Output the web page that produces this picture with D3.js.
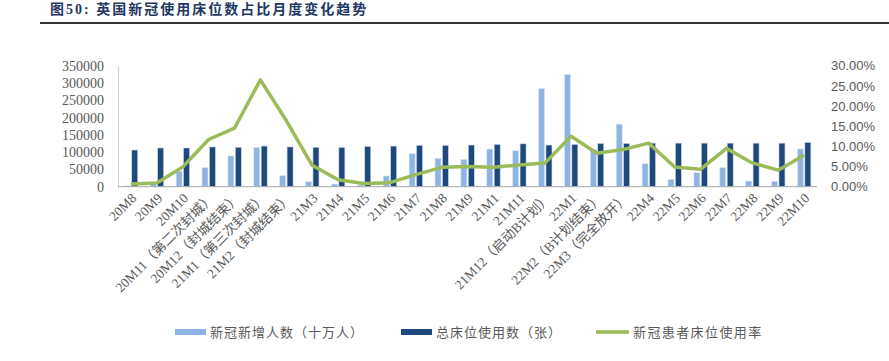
<!DOCTYPE html>
<html><head><meta charset="utf-8">
<script src="https://cdn.jsdelivr.net/npm/d3@7/dist/d3.min.js"></script>
<style>body{margin:0;background:#fff}svg{display:block}</style>
</head><body>
<svg id="c" width="889" height="361"></svg>
<script>
const categories = ["20M8","20M9","20M10","20M11（第二次封城）","20M12（封城结束）","21M1（第三次封城）","21M2（封城结束）","21M3","21M4","21M5","21M6","21M7","21M8","21M9","21M1","21M11","21M12（启动B计划）","22M1","22M2（B计划结束）","22M3（完全放开）","22M4","22M5","22M6","22M7","22M8","22M9","22M10"];
const newCases = [3000,9000,45000,55000,89000,113000,32000,14500,7700,5000,31000,96000,82000,79000,109000,104000,284000,325000,108000,181000,66500,21000,40500,55000,16400,15400,109000];
const bedsUsed = [106000,112000,112000,115000,114000,117500,115000,114000,114000,116500,117500,119500,119500,120500,122400,124000,120500,122400,125000,125000,126000,126000,126000,126000,126000,126000,128000];
const bedRate = [0.0066,0.009,0.049,0.117,0.145,0.265,0.164,0.053,0.017,0.008,0.010,0.030,0.048,0.050,0.0485,0.054,0.059,0.125,0.083,0.092,0.108,0.049,0.043,0.095,0.059,0.041,0.078];
const leftTicks = [0,50000,100000,150000,200000,250000,300000,350000];
const rightTicks = [0,0.05,0.10,0.15,0.20,0.25,0.30];
const seriesNames = ["新冠新增人数（十万人）","总床位使用数（张）","新冠患者床位使用率"];
const title = "图50: 英国新冠使用床位数占比月度变化趋势";

const C_LIGHT = "#8db4e2", C_DARK = "#1f497d", C_LINE = "#9bbb59", C_TXT = "#595959";
const svg = d3.select("#c");
const x0 = 118, x1 = 817, yTop = 65.7, yBot = 186.7;
const x = d3.scaleBand().domain(categories).range([x0, x1]);
const yL = d3.scaleLinear().domain([0, 350000]).range([yBot, yTop]);
const yR = d3.scaleLinear().domain([0, 0.30]).range([yBot, yTop]);
const cx = d => x(d) + x.bandwidth() / 2;

// title
svg.append("text").attr("x", 50).attr("y", 14).attr("fill", "#1f3864")
  .attr("font-family", "'Liberation Serif','Noto Sans CJK SC',serif").attr("font-weight", "bold")
  .attr("font-size", 14).attr("letter-spacing", 2).text(title);
svg.append("line").attr("x1", 40).attr("x2", 889).attr("y1", 23).attr("y2", 23)
  .attr("stroke", "#333").attr("stroke-width", 2);

// left axis
const gL = svg.append("g").attr("transform", `translate(${x0},0)`)
  .call(d3.axisLeft(yL).tickValues(leftTicks).tickSize(0).tickPadding(14).tickFormat(d3.format("d")));
gL.select(".domain").attr("stroke", "#d0d0d0");
gL.selectAll("text").attr("fill", C_TXT).attr("font-family", "'Liberation Serif',serif").attr("font-size", 14);

// right axis
const gR = svg.append("g").attr("transform", `translate(${x1},0)`)
  .call(d3.axisRight(yR).tickValues(rightTicks).tickSize(0).tickPadding(14).tickFormat(d3.format(".2%")));
gR.select(".domain").remove();
gR.selectAll("text").attr("fill", C_TXT).attr("font-family", "'Liberation Sans',sans-serif").attr("font-size", 13);

// bars
const bw = 6;
svg.append("g").selectAll("rect").data(categories).join("rect")
  .attr("x", d => cx(d) - 6.6).attr("width", bw)
  .attr("y", (d, i) => yL(newCases[i])).attr("height", (d, i) => yBot - yL(newCases[i]))
  .attr("fill", C_LIGHT).attr("stroke", "#dbe7f5").attr("stroke-width", 0.6);
svg.append("g").selectAll("rect").data(categories).join("rect")
  .attr("x", d => cx(d) + 0.8).attr("width", bw)
  .attr("y", (d, i) => yL(bedsUsed[i])).attr("height", (d, i) => yBot - yL(bedsUsed[i]))
  .attr("fill", C_DARK).attr("stroke", "#c9d6e6").attr("stroke-width", 0.6);

// baseline
svg.append("line").attr("x1", x0).attr("x2", x1).attr("y1", yBot).attr("y2", yBot)
  .attr("stroke", "#a6a6a6").attr("stroke-width", 1);

// line
svg.append("path").datum(categories)
  .attr("d", d3.line().x(d => cx(d)).y((d, i) => yR(bedRate[i])))
  .attr("fill", "none").attr("stroke", C_LINE).attr("stroke-width", 3.5).attr("stroke-linejoin", "round");

// x labels
svg.append("g").selectAll("text").data(categories).join("text")
  .attr("transform", d => `translate(${cx(d) + 3},${yBot + 9}) rotate(-45)`)
  .attr("text-anchor", "end").attr("dy", "0.35em")
  .attr("fill", C_TXT).attr("font-family", "'Liberation Serif','Noto Sans CJK SC',serif").attr("font-size", 13.5)
  .text(d => d);

// legend
const lg = svg.append("g").attr("font-family", "'Noto Sans CJK SC',sans-serif").attr("font-size", 13).attr("fill", C_TXT);
const ly = 332;
lg.append("rect").attr("x", 175).attr("y", ly - 3).attr("width", 31).attr("height", 6).attr("fill", C_LIGHT);
lg.append("text").attr("x", 210).attr("y", ly).attr("dy", "0.35em").attr("letter-spacing", 1).text(seriesNames[0]);
lg.append("rect").attr("x", 401).attr("y", ly - 3).attr("width", 31).attr("height", 6).attr("fill", C_DARK);
lg.append("text").attr("x", 436).attr("y", ly).attr("dy", "0.35em").attr("letter-spacing", 1).text(seriesNames[1]);
lg.append("line").attr("x1", 596).attr("x2", 629).attr("y1", ly).attr("y2", ly).attr("stroke", C_LINE).attr("stroke-width", 3.5);
lg.append("text").attr("x", 633).attr("y", ly).attr("dy", "0.35em").attr("letter-spacing", 1.4).text(seriesNames[2]);
</script>
</body></html>
